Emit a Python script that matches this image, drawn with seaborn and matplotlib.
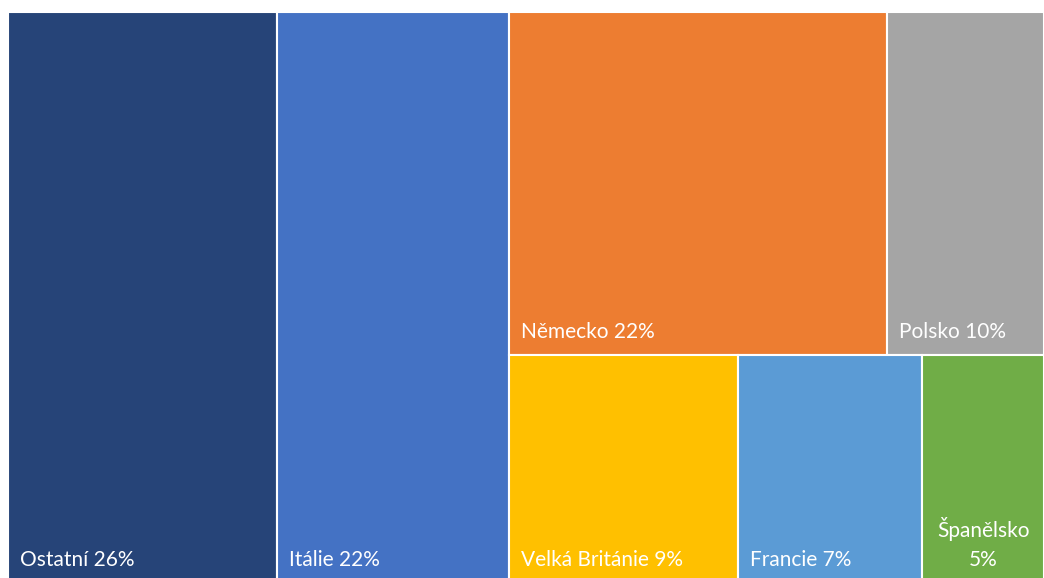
import matplotlib
matplotlib.use("Agg")
import matplotlib.pyplot as plt
import seaborn as sns

# shares by country (%)
countries = ["Ostatní", "Itálie", "Německo", "Polsko", "Velká Británie", "Francie", "Španělsko"]
shares = [26.0, 22.4, 21.9, 9.1, 8.8, 7.1, 4.7]
# percentages as printed on the tiles
pct_labels = [26, 22, 22, 10, 9, 7, 5]
colors = ["#264478", "#4472C4", "#ED7D31", "#A5A5A5", "#FFC000", "#5B9BD5", "#70AD47"]

# treemap structure: first two get full-height columns, the rest share a column in two rows
top_row = ["Německo", "Polsko"]
bottom_row = ["Velká Británie", "Francie", "Španělsko"]

sns.set_theme(style="white")
plt.rcParams["font.family"] = ["Lato", "DejaVu Sans"]

val = dict(zip(countries, shares))
col = dict(zip(countries, colors))
lab = dict(zip(countries, pct_labels))
total = sum(shares)

# compute rectangles in a 0..1 x 0..1 box
rects = {}
x = 0.0
for name in ["Ostatní", "Itálie"]:
    w = val[name] / total
    rects[name] = (x, 0.0, w, 1.0)
    x += w
rest = sum(val[n] for n in top_row + bottom_row)
rest_w = rest / total
top_h = sum(val[n] for n in top_row) / rest
for row, y0, h in [(top_row, 1 - top_h, top_h), (bottom_row, 0.0, 1 - top_h)]:
    row_sum = sum(val[n] for n in row)
    xx = x
    for n in row:
        w = rest_w * val[n] / row_sum
        rects[n] = (xx, y0, w, h)
        xx += w

# plot area: the reference is cropped a few pixels at the bottom
ax_w_px, ax_h_px = 1036, 571
fig = plt.figure(figsize=(10.44, 5.78), dpi=100)
ax = fig.add_axes([8 / 1044, -5 / 578, ax_w_px / 1044, ax_h_px / 578])

for n in countries:
    x0, y0, w, h = rects[n]
    ax.bar(x0, h, width=w, bottom=y0, align="edge", color=col[n],
           edgecolor="white", linewidth=1.5)
    if w * ax_w_px < 140:
        ax.text(x0 + w / 2, y0 + 17 / ax_h_px, f"{lab[n]}%", color="white",
                fontsize=15, ha="center", va="baseline")
        ax.text(x0 + w / 2, y0 + 46 / ax_h_px, n, color="white",
                fontsize=15, ha="center", va="baseline")
    else:
        ax.text(x0 + 12 / ax_w_px, y0 + 17 / ax_h_px, f"{n} {lab[n]}%", color="white",
                fontsize=15, ha="left", va="baseline")

ax.set_xlim(0, 1)
ax.set_ylim(0, 1)
ax.axis("off")

fig.savefig("out.png", dpi=100)
